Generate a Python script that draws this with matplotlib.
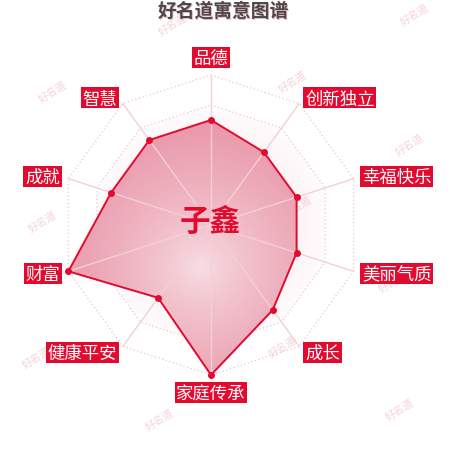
import numpy as np
import matplotlib
matplotlib.use('Agg')
import matplotlib.pyplot as plt
from matplotlib.patches import Polygon, Rectangle
from matplotlib import transforms
from matplotlib.textpath import TextPath
from matplotlib.font_manager import FontProperties

plt.rcParams['font.family'] = ['Noto Sans CJK SC', 'DejaVu Sans']

# ---- data ----
title = '好名道寓意图谱'
name = '子鑫'
watermark = '好名道'
categories = ['品德', '创新独立', '幸福快乐', '美丽气质', '成长',
              '家庭传承', '健康平安', '财富', '成就', '智慧']
values = [70, 60, 60, 60, 70, 100, 60, 100, 70, 70]
max_value = 100
ring_levels = [20, 40, 60, 80, 100]

RED = '#e30a30'

fig = plt.figure(figsize=(4.5, 4.5), dpi=100)
ax = fig.add_axes([0, 0, 1, 1])
ax.set_xlim(-140.67, 159.33)
ax.set_ylim(-150, 150)
ax.set_aspect('equal')
ax.axis('off')

n = len(categories)
theta = np.arange(n) * 2 * np.pi / n
sx, sy = np.sin(theta), np.cos(theta)

# ---- watermarks (figure pixel positions) ----
wm_pos = [(173, 25), (415, 15), (53, 92), (293, 82), (410, 145), (43, 222),
          (298, 207), (393, 282), (37, 358), (160, 420), (283, 347), (400, 410)]
for (wx, wy) in wm_pos:
    ax.text(wx / 450, 1 - wy / 450, watermark, fontsize=7.5, color='#f5d3d9',
            rotation=32, ha='center', va='center', zorder=0.5,
            transform=ax.transAxes)

# ---- background gradient inside ring 80 ----
N = 400
g = np.linspace(-100, 100, N)
GX, GY = np.meshgrid(g, g)
R = np.hypot(GX, GY)
bg = np.zeros((N, N, 4))
bg[..., 0] = 238 / 255
bg[..., 1] = 175 / 255
bg[..., 2] = 188 / 255
bg[..., 3] = np.clip(0.45 * (1 - R / 85), 0, 1)
bg_img = ax.imshow(bg, extent=(-100, 100, -100, 100), origin='lower',
                   zorder=1, interpolation='bilinear')
ring80 = Polygon(np.column_stack([80 * sx, 80 * sy]), closed=True,
                 transform=ax.transData, fc='none', ec='none')
ax.add_patch(ring80)
bg_img.set_clip_path(ring80)

# ---- rings ----
for lv in ring_levels:
    xs = np.append(lv * sx, lv * sx[0])
    ys = np.append(lv * sy, lv * sy[0])
    ax.plot(xs, ys, color='#f0c4cd', lw=0.9, ls=(0, (1, 2)), zorder=2)

# ---- data polygon with radial gradient ----
v = np.array(values) / max_value * 100
px_ = v * sx
py_ = v * sy
cx, cy = -7.0, -28.0
D = np.hypot(GX - cx, GY - cy)
t = np.clip(D / 100, 0, 1) ** 0.75
c0 = np.array([248, 224, 229]) / 255
c1 = np.array([233, 150, 168]) / 255
fill = np.zeros((N, N, 4))
for k in range(3):
    fill[..., k] = c0[k] + (c1[k] - c0[k]) * t
fill[..., 3] = 1.0
poly = Polygon(np.column_stack([px_, py_]), closed=True, fc='none',
               ec='none', transform=ax.transData)
ax.add_patch(poly)
fimg = ax.imshow(fill, extent=(-100, 100, -100, 100), origin='lower',
                 zorder=3, interpolation='bilinear')
fimg.set_clip_path(poly)

# ---- spokes ----
for i in range(n):
    ax.plot([0, 100 * sx[i]], [0, 100 * sy[i]], color='#f4cfd7', lw=1.0,
            zorder=4)

# ---- polygon outline and points ----
ax.plot(np.append(px_, px_[0]), np.append(py_, py_[0]), color=RED, lw=1.4,
        zorder=5)
ax.plot(px_, py_, 'o', color=RED, ms=4, zorder=6)

# ---- center name ----
ax.text(-0.3, 2.3, name, fontsize=22, fontweight='bold', color=RED,
        ha='center', va='center', zorder=7)

# ---- title with pink shadow ----
shadow_tr = transforms.offset_copy(fig.transFigure, fig=fig, x=1, y=-1,
                                   units='dots')
fig.text(0.4967, 0.9756, title, fontsize=13.5, fontweight='bold',
         color='#f0b8c2', ha='center', va='center', transform=shadow_tr)
fig.text(0.4967, 0.9756, title, fontsize=13.5, fontweight='bold',
         color='#4a4a4a', ha='center', va='center')

# ---- axis labels in red boxes ----
label_r = 104.7
label_fs = 12.5
fs_px = label_fs * fig.dpi / 72
fp = FontProperties(family='Noto Sans CJK SC', size=label_fs)
inv = ax.transData.inverted()
box_h = 21
for i, lab in enumerate(categories):
    ax_, ay_ = ax.transData.transform((label_r * sx[i], label_r * sy[i]))
    ext = TextPath((0, 0), lab, size=fs_px, prop=fp).get_extents()
    w = ext.width + 5
    if sx[i] > 0.01:
        bx0 = ax_
    elif sx[i] < -0.01:
        bx0 = ax_ - w
    else:
        bx0 = ax_ - w / 2
    if abs(sx[i]) < 0.01:
        by0 = ay_ if sy[i] > 0 else ay_ - box_h
    else:
        by0 = ay_ - box_h / 2
    d0 = inv.transform((bx0, by0))
    d1 = inv.transform((bx0 + w, by0 + box_h))
    ax.add_patch(Rectangle(d0, d1[0] - d0[0], d1[1] - d0[1], fc=RED,
                           ec='none', zorder=8))
    tx_disp = bx0 + w / 2 - (ext.x0 + ext.x1) / 2
    ty_disp = by0 + box_h / 2 - (ext.y0 + ext.y1) / 2
    tpos = inv.transform((tx_disp, ty_disp))
    ax.text(tpos[0], tpos[1], lab, fontsize=label_fs, color='white',
            ha='left', va='baseline', zorder=9)

fig.savefig('out.png', dpi=100)
